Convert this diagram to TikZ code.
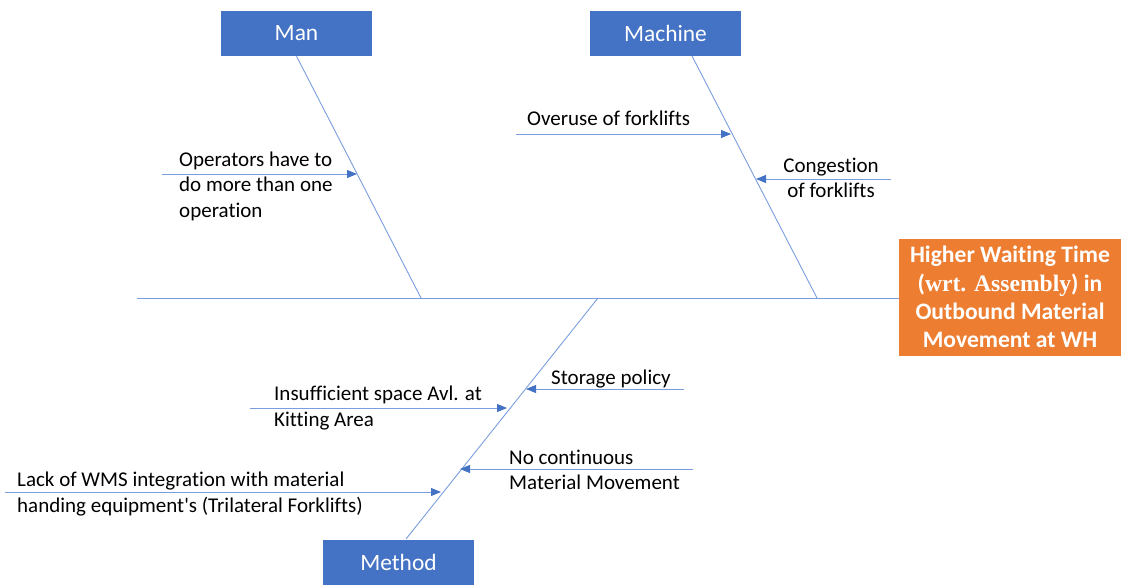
\documentclass[tikz,border=0pt]{standalone}
\usepackage{fontspec}
\setmainfont{Carlito}[Ligatures={NoCommon}]
\newfontfamily\serifbold{Liberation Serif}
\usetikzlibrary{arrows.meta}
\definecolor{boxblue}{HTML}{4472C4}
\definecolor{boneblue}{HTML}{7A9EDD}
\definecolor{effectorange}{HTML}{ED7D31}

\tikzset{
  bone/.style={draw=boneblue,line width=0.9pt},
  cause/.style={draw=boneblue,line width=0.9pt,
    -{Triangle[length=10pt,width=8pt,color=boxblue]}},
  catbox/.style={fill=boxblue,text=white,minimum width=151pt,
    minimum height=45pt,inner sep=0pt,font=\fontsize{23.4}{26}\selectfont},
  causetext/.style={inner sep=0pt,align=left,
    font=\fontsize{21}{25.5}\selectfont}
}

\begin{document}
\begin{tikzpicture}[x=1pt,y=-1pt]
  \useasboundingbox (0,0) rectangle (1121,584);

  % category boxes and the effect
  \draw (296.5,33.5) node[catbox] (man) {Man};
  \draw (665.5,33.5) node[catbox] (machine) {Machine};
  \draw (398.5,562.5) node[catbox] (method) {Method};
  \draw (1010,297) node[fill=effectorange,text=white,minimum width=222pt,
    minimum height=117pt,inner sep=0pt,align=center,
    font=\fontsize{23.6}{28.3}\selectfont\bfseries] (effect)
    {Higher Waiting Time\\(\textbf{\serifbold wrt. Assembly}) in\\
     Outbound Material\\Movement at WH};

  % spine and bones
  \coordinate (spinestart) at (137,298);
  \coordinate (spineend) at (899,298);
  \coordinate (manfoot) at (421,298);
  \coordinate (machinetop) at (692,56);
  \coordinate (machinefoot) at (817,298);
  \coordinate (methodtop) at (598,298);
  \coordinate (methodfoot) at (406,539);
  \draw[bone] (spinestart) -- (spineend);
  \draw[bone] (man.south) -- (manfoot);
  \draw[bone] (machinetop) -- (machinefoot);
  \draw[bone] (methodfoot) -- (methodtop);

  % causes: Man
  \coordinate (opstail) at (162,174);
  \coordinate (opshead) at (357,174);
  \draw[cause] (opstail) -- (opshead);
  \draw (179,186) node[causetext,anchor=west] (ops)
    {Operators have to\\do more than one\\operation};

  % causes: Machine
  \coordinate (overtail) at (516,134);
  \coordinate (overhead) at (731,134);
  \draw[cause] (overtail) -- (overhead);
  \draw (527,118.5) node[causetext,anchor=west] (overuse) {Overuse of forklifts};
  \coordinate (congtail) at (891,179);
  \coordinate (conghead) at (756,179);
  \draw[cause] (congtail) -- (conghead);
  \draw (831,178) node[causetext,align=center] (congestion)
    {Congestion\\of forklifts};

  % causes: Method
  \coordinate (stortail) at (684,389);
  \coordinate (storhead) at (526,389);
  \draw[cause] (stortail) -- (storhead);
  \draw (551,379.5) node[causetext,anchor=west] (storage) {Storage policy};
  \coordinate (kittail) at (250,408);
  \coordinate (kithead) at (507,408);
  \draw[cause] (kittail) -- (kithead);
  \draw (274,408) node[causetext,anchor=west] (kitting)
    {Insufficient space Avl. at\\Kitting Area};
  \coordinate (movetail) at (693,469);
  \coordinate (movehead) at (460,469);
  \draw[cause] (movetail) -- (movehead);
  \draw (509,470) node[causetext,anchor=west] (movement)
    {No continuous\\Material Movement};
  \coordinate (wmstail) at (5,492);
  \coordinate (wmshead) at (441,492);
  \draw[cause] (wmstail) -- (wmshead);
  \draw (17,494) node[causetext,anchor=west] (wms)
    {Lack of WMS integration with material\\handing equipment\textquotesingle s (Trilateral Forklifts)};
\end{tikzpicture}
\end{document}
